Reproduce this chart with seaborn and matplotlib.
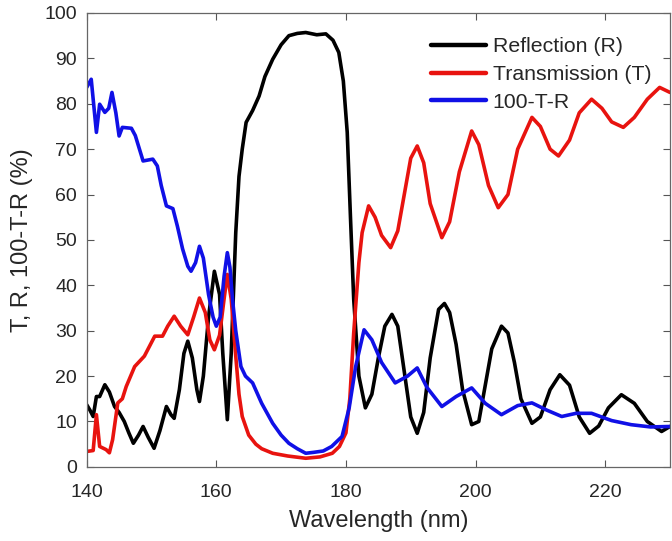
import numpy as np
import pandas as pd
import matplotlib
matplotlib.use("Agg")
import matplotlib.pyplot as plt
import seaborn as sns

# Reflection (R)
r_wl = [140, 140.5, 141, 141.5, 142, 142.8, 143.5, 144.3, 145, 145.8, 146.5, 147.2, 148, 148.7,
        149.5, 150.4, 151.3, 152.3, 153, 153.5, 154.3, 155, 155.6, 156.3, 157, 157.4, 158, 158.8,
        159.7, 160.5, 161, 161.7, 162.3, 163, 163.5, 164, 164.6, 165.6, 166.6, 167.5, 168.7, 170,
        171.2, 172.5, 173.8, 175.5, 176.9, 178, 178.9, 179.6, 180.2, 180.7, 181.2, 182, 183, 184,
        185, 186, 187.1, 188, 189, 190, 191, 192, 193, 194.3, 195.2, 196, 197, 198, 199.4, 200.5,
        201.5, 202.5, 204, 205, 206, 207, 208.7, 210, 211.5, 213, 214.5, 216, 217.6, 219, 220.5,
        222.5, 224.5, 226.5, 228.7, 230]
r_val = [13.7, 12.5, 11.1, 15.5, 15.5, 18.1, 16.5, 13.3, 12.0, 10.0, 7.5, 5.2, 7.0, 8.9,
         6.5, 4.1, 8.0, 13.3, 11.5, 10.7, 17.0, 25.0, 27.7, 24.0, 17.0, 14.4, 20.0, 33.0,
         43.1, 38.0, 25.0, 10.4, 25.0, 51.6, 64.0, 70.0, 75.9, 78.5, 81.7, 86.0, 89.8, 93.0,
         95.0, 95.5, 95.7, 95.2, 95.4, 94.0, 91.3, 85.0, 73.7, 55.0, 36.9, 20.0, 13.0, 16.0,
         24.0, 31.0, 33.6, 31.0, 21.0, 11.0, 7.4, 12.0, 24.0, 34.7, 36.0, 34.0, 27.0, 17.0, 9.3, 10.0,
         18.0, 26.0, 31.0, 29.5, 23.0, 15.0, 9.6, 11.0, 17.0, 20.3, 18.0, 11.0, 7.4, 9.0, 13.0,
         15.9, 14.0, 10.0, 7.8, 8.9]

# Transmission (T)
t_wl = [140, 141, 141.5, 142, 143, 143.5, 144, 144.8, 145.5, 146.1, 147.4, 148.9, 150.5, 151.7,
        152.5, 153.5, 154.5, 155.6, 156.5, 157.4, 158.3, 159, 159.7, 160.5, 161.2, 161.7, 162.3,
        163, 163.5, 164, 165, 166.1, 167, 168.7, 171, 173.8, 176, 177.9, 179, 180, 180.6, 181.2,
        182, 182.5, 183.5, 184.5, 185.5, 186.9, 188, 189, 190, 191, 192, 193, 194.8, 196, 197.5,
        199.4, 200.5, 202, 203.5, 205, 206.5, 208.7, 210, 211.5, 212.8, 214.5, 216, 217.9, 219.5,
        221, 222.8, 224.5, 226.5, 228.4, 230]
t_val = [3.4, 3.6, 11.5, 4.5, 3.8, 3.1, 6.0, 14.1, 15.0, 17.7, 22.1, 24.4, 28.8, 28.8,
         31.0, 33.2, 31.0, 29.1, 33.0, 37.2, 34.0, 28.0, 25.8, 29.0, 37.0, 42.4, 37.0,
         24.4, 16.0, 11.1, 7.0, 5.0, 4.0, 3.0, 2.4, 1.9, 2.2, 3.0, 4.5, 7.5, 15.0, 29.5,
         45.0, 51.6, 57.5, 55.0, 51.0, 48.3, 52.0, 60.0, 68.0, 70.7, 67.0, 58.0, 50.5, 54.0, 65.0,
         74.0, 71.0, 62.0, 57.1, 60.0, 70.0, 77.0, 75.0, 70.0, 68.5, 72.0, 78.0, 81.0, 79.0,
         76.0, 74.8, 77.0, 81.0, 83.6, 82.5]

# 100-T-R
a_wl = [140, 140.7, 141.5, 142, 142.8, 143.4, 143.9, 144.5, 145, 145.5, 146.9, 147.5, 148.7, 150.2,
        150.9, 151.5, 152.3, 153.3, 154, 154.8, 155.6, 156.1, 156.8, 157.4, 158, 158.8, 159.5, 160,
        160.6, 161.2, 161.7, 162.1, 162.5, 163, 163.8, 164.5, 165.6, 167, 168.7, 170, 171.2, 172.5,
        173.8, 175, 176.5, 177.8, 179.4, 180.5, 181.5, 182.8, 184, 185.5, 187.6, 189.5, 191, 192.5,
        194.8, 197, 199.4, 201.5, 204, 206.5, 208.7, 211, 213.3, 215.5, 217.9, 221, 224, 227, 230]
a_val = [83.6, 85.4, 73.7, 79.9, 78.1, 79.0, 82.5, 78.0, 72.9, 74.8, 74.6, 73.0, 67.4, 67.8,
         66.3, 62.0, 57.5, 56.9, 53.0, 48.0, 44.2, 43.1, 45.0, 48.6, 46.0, 38.0, 33.0, 31.0,
         33.0, 42.0, 47.2, 44.0, 36.9, 30.0, 22.1, 20.0, 18.5, 14.0, 9.6, 7.0, 5.2, 4.0,
         3.0, 3.2, 3.5, 4.5, 6.7, 13.0, 22.1, 30.2, 28.0, 23.0, 18.5, 20.0, 21.8, 17.5,
         13.3, 15.5, 17.4, 14.0, 11.5, 13.5, 14.1, 12.5, 11.1, 11.8, 11.8, 10.2, 9.3, 8.8, 8.9]

labels = ["Reflection (R)", "Transmission (T)", "100-T-R"]
colors = ["#000000", "#e8130f", "#1010e6"]

sns.set_style("ticks")
plt.rcParams['font.family'] = ['Liberation Sans', 'DejaVu Sans']
tc = "#262626"

fig = plt.figure(figsize=(6.72, 5.41), dpi=100)
ax = fig.add_axes([0.129, 0.137, 0.868, 0.839])

for wl, val, lab, col in zip([r_wl, t_wl, a_wl], [r_val, t_val, a_val], labels, colors):
    df = pd.DataFrame({"wl": wl, "val": val})
    sns.lineplot(data=df, x="wl", y="val", ax=ax, color=col, linewidth=2.6, label=lab,
                 sort=False, estimator=None)

ax.set_xlim(140, 230)
ax.set_ylim(0, 100)
ax.set_xticks([140, 160, 180, 200, 220])
ax.set_yticks(range(0, 101, 10))
ax.tick_params(direction="in", top=True, right=True, length=5, width=0.8,
               labelsize=14, colors="#555555", labelcolor=tc)
ax.tick_params(axis="x", pad=12)
ax.tick_params(axis="y", pad=7)
for s in ax.spines.values():
    s.set_visible(True)
    s.set_color("#666666")
    s.set_linewidth(0.9)
ax.set_xlabel("Wavelength (nm)", fontsize=17, color=tc, labelpad=7)
ax.set_ylabel("T, R, 100-T-R (%)", fontsize=17, color=tc, labelpad=8)

leg = ax.legend(loc="upper right", bbox_to_anchor=(0.99, 0.975), frameon=False, fontsize=15.3,
                handlelength=2.6, handletextpad=0.3, labelspacing=0.42, borderaxespad=0.2)
for t in leg.get_texts():
    t.set_color(tc)
for h in leg.get_lines():
    h.set_linewidth(3.2)

fig.savefig("out.png", dpi=100)
